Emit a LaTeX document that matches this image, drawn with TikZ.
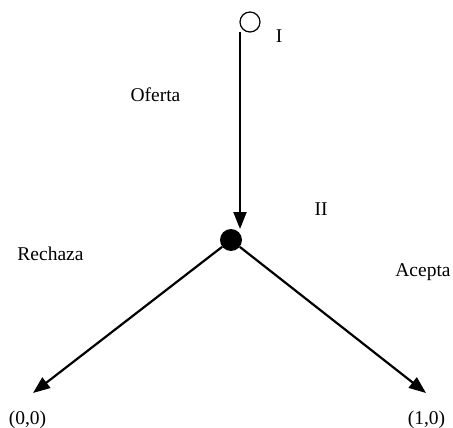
\documentclass[tikz,border=0pt]{standalone}
\usepackage{fontspec}
\setmainfont{Liberation Serif}
\usetikzlibrary{arrows.meta}
\begin{document}
\begin{tikzpicture}[x=1pt,y=-1pt,
  lbl/.style={anchor=base,inner sep=0pt,font=\fontsize{19.5}{22}\selectfont},
  edge/.style={line width=2.2pt,-{Triangle[length=17pt,width=13pt]}},
  opennode/.style={circle,draw,line width=1.2pt,minimum size=20pt,inner sep=0pt},
  fullnode/.style={circle,fill,minimum size=22pt,inner sep=0pt}]
\useasboundingbox (0,0) rectangle (453,428);
\node[opennode] (n1) at (250,22) {};
\node[fullnode] (n2) at (231,240) {};
\coordinate (s1) at (240,32);
\coordinate (e1) at (240,229);
\coordinate (t0) at (33,393);
\coordinate (t1) at (426,393);
\draw[edge] (s1) -- (e1);
\draw[edge] (n2) -- (t0);
\draw[edge] (n2) -- (t1);
\node[lbl] (lI) at (279,43) {I};
\node[lbl] (lII) at (321,215) {II};
\node[lbl] (lof) at (155.5,101.5) {Oferta};
\node[lbl] (lre) at (50.5,260) {Rechaza};
\node[lbl] (lac) at (423,276) {Acepta};
\node[lbl] (p0) at (27.5,424) {(0,0)};
\node[lbl] (p1) at (426.5,424) {(1,0)};
\end{tikzpicture}
\end{document}
